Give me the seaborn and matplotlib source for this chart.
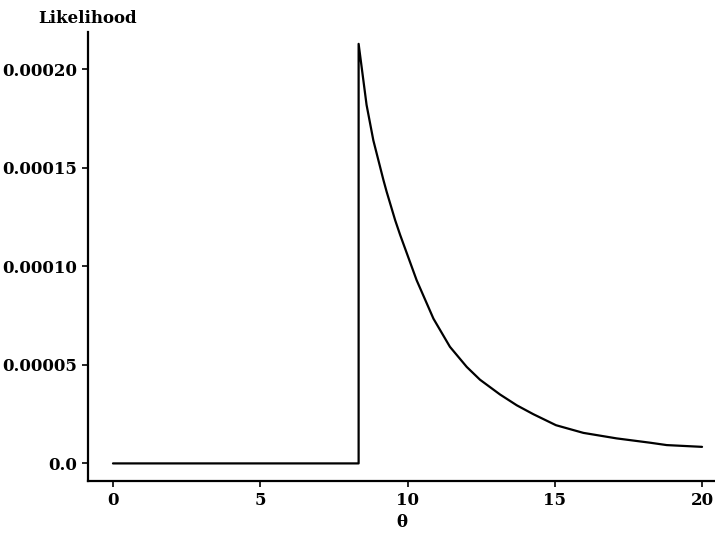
import numpy as np
import pandas as pd
import matplotlib
matplotlib.use('Agg')
import matplotlib.pyplot as plt
import seaborn as sns

# values (likelihood in units of 1e-5)
theta = [0.0, 8.34, 8.34, 8.61, 8.84, 9.18, 9.29, 9.58, 9.75, 10.31,
         10.88, 11.44, 12.01, 12.46, 13.14, 13.71, 14.27, 15.04, 15.97,
         17.10, 18.24, 18.80, 20.0]
lik_e5 = [0.0, 0.0, 21.3, 18.2, 16.4, 14.4, 13.8, 12.35, 11.6, 9.3,
          7.35, 5.92, 4.9, 4.25, 3.5, 2.95, 2.5, 1.94, 1.55,
          1.27, 1.05, 0.93, 0.84]
yticks = [0.0, 0.00005, 0.00010, 0.00015, 0.00020]
ytick_labels = ['0.0', '0.00005', '0.00010', '0.00015', '0.00020']
xticks = [0, 5, 10, 15, 20]

df = pd.DataFrame({'theta': theta, 'lik': np.array(lik_e5) * 1e-5})

sns.set_style('ticks')
plt.rcParams['font.family'] = ['DejaVu Serif']
plt.rcParams['text.color'] = 'black'
plt.rcParams['axes.labelcolor'] = 'black'

fig = plt.figure(figsize=(7.15, 5.34), dpi=100)
ax = fig.add_axes([0.123, 0.099, 0.877, 0.841])

sns.lineplot(data=df, x='theta', y='lik', sort=False, estimator=None,
             color='black', linewidth=1.6, ax=ax)

ax.set_xlim(-0.85, 20.44)
ax.set_ylim(-0.9e-5, 21.9e-5)
ax.set_xticks(xticks)
ax.set_xticklabels([str(t) for t in xticks])
ax.set_yticks(yticks)
ax.set_yticklabels(ytick_labels)
ax.tick_params(labelsize=12, length=4, width=1.2, colors='black')
for lab in ax.get_xticklabels() + ax.get_yticklabels():
    lab.set_fontweight('bold')

ax.set_xlabel('θ', fontsize=12, fontweight='bold', labelpad=4, color='black')
ax.set_ylabel('')
ax.text(0.0, 1.012, 'Likelihood', transform=ax.transAxes, ha='center',
        va='bottom', fontsize=12, fontweight='bold', color='black')

sns.despine(ax=ax)
for s in ['left', 'bottom']:
    ax.spines[s].set_linewidth(1.6)
    ax.spines[s].set_color('black')

fig.savefig('out.png', dpi=100)
